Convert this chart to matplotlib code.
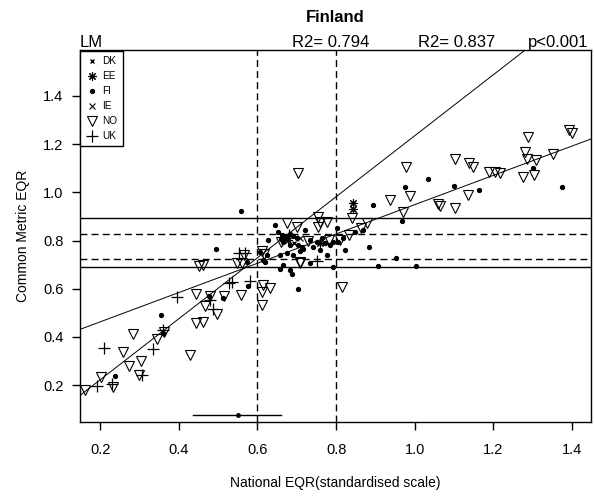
import numpy as np
import matplotlib
matplotlib.use("Agg")
import matplotlib.pyplot as plt
from matplotlib.lines import Line2D

plt.rcParams['font.family'] = ['Liberation Sans', 'DejaVu Sans']

# National EQR (x) vs common metric EQR (y), per country
no_x = [0.162, 0.202, 0.234, 0.259, 0.283, 0.274, 0.303, 0.300, 0.344, 0.363,
        0.429, 0.444, 0.462, 0.443, 0.466, 0.497, 0.516, 0.559, 0.452, 0.547,
        0.560, 0.611, 0.632, 0.611, 0.612, 0.702, 0.675, 0.700, 0.754, 0.776,
        0.759, 0.659, 0.617, 0.566, 0.461, 0.708, 0.728, 0.783, 0.815, 0.615,
        0.480, 0.938, 0.987, 0.970, 1.058, 0.878, 0.840, 1.288, 1.392, 1.399,
        1.279, 1.286, 1.309, 1.352, 1.276, 1.304, 1.189, 1.204, 1.216, 1.102,
        1.138, 1.149, 0.978, 1.102, 1.134, 1.063, 0.811, 0.832, 0.862, 0.753,
        0.709]
no_y = [0.182, 0.234, 0.194, 0.338, 0.412, 0.279, 0.300, 0.241, 0.391, 0.422,
        0.325, 0.457, 0.463, 0.580, 0.528, 0.495, 0.571, 0.573, 0.694, 0.705,
        0.706, 0.587, 0.605, 0.532, 0.756, 1.080, 0.874, 0.856, 0.897, 0.876,
        0.878, 0.795, 0.746, 0.740, 0.698, 0.710, 0.799, 0.802, 0.608, 0.615,
        0.569, 0.968, 0.986, 0.919, 0.953, 0.874, 0.892, 1.228, 1.258, 1.246,
        1.168, 1.137, 1.134, 1.158, 1.064, 1.070, 1.085, 1.085, 1.079, 1.137,
        1.122, 1.106, 1.106, 0.937, 0.988, 0.944, 0.801, 0.822, 0.850, 0.857,
        0.705]

fi_x = [0.355, 0.478, 0.513, 0.238, 0.361, 0.577, 0.619, 0.558, 0.495, 0.628,
        0.704, 0.894, 0.976, 1.033, 0.967, 0.883, 0.951, 0.907, 1.003, 0.793,
        1.100, 1.163, 1.301, 1.375, 0.806, 0.848, 0.869,
        0.653, 0.662, 0.670, 0.683, 0.700, 0.704, 0.713, 0.666, 0.683, 0.717,
        0.734, 0.751, 0.763, 0.772, 0.784, 0.793, 0.801, 0.818, 0.657, 0.674,
        0.691, 0.666, 0.687, 0.734, 0.776, 0.624, 0.607, 0.615, 0.573, 0.657,
        0.683, 0.645, 0.721, 0.759, 0.823, 0.690, 0.742, 0.708, 0.660]
fi_y = [0.493, 0.569, 0.560, 0.239, 0.415, 0.611, 0.712, 0.921, 0.764, 0.802,
        0.601, 0.947, 1.023, 1.055, 0.882, 0.774, 0.726, 0.696, 0.696, 0.691,
        1.026, 1.009, 1.103, 1.023, 0.795, 0.836, 0.843,
        0.836, 0.822, 0.815, 0.829, 0.809, 0.781, 0.774, 0.795, 0.781, 0.767,
        0.802, 0.795, 0.809, 0.788, 0.781, 0.795, 0.850, 0.809, 0.740, 0.747,
        0.740, 0.698, 0.663, 0.705, 0.740, 0.740, 0.753, 0.719, 0.712, 0.684,
        0.677, 0.864, 0.843, 0.760, 0.760, 0.818, 0.772, 0.756, 0.805]

uk_x = [0.395, 0.210, 0.335, 0.361, 0.192, 0.230, 0.307, 0.486, 0.480, 0.527,
        0.552, 0.569, 0.582, 0.535, 0.751, 0.679]
uk_y = [0.565, 0.353, 0.352, 0.428, 0.198, 0.204, 0.241, 0.518, 0.555, 0.622,
        0.748, 0.748, 0.632, 0.629, 0.716, 0.822]

ee_x = [0.842, 0.844, 0.678, 0.759]
ee_y = [0.954, 0.930, 0.802, 0.789]
ie_x = [0.708]
ie_y = [0.810]
dk_x = [0.693]
dk_y = [0.789]

# fitted lines: (intercept, slope)
fit_a = (0.341, 0.608)
fit_b = (-0.031, 1.266)

# class boundaries
bounds_x = [0.6, 0.8]
bounds_solid = [0.893, 0.690]
bounds_dash = [0.827, 0.723]

# mean and range of national boundary
err_mid, err_lo, err_hi, err_y = 0.55, 0.436, 0.66, 0.078

fig = plt.figure(figsize=(5.94, 5.01), dpi=100)
ax = fig.add_axes([0.1347, 0.158, 0.8603, 0.742])

ax.plot(no_x, no_y, 'v', ms=7, mfc='none', mec='black', mew=0.8, ls='none')
ax.plot(fi_x, fi_y, 'o', ms=2.8, color='black', ls='none')
ax.plot(uk_x, uk_y, '+', ms=9, color='black', mew=0.9, ls='none')
ax.plot(ee_x, ee_y, marker=(8, 2, 0), ms=6, color='black', mew=0.8, ls='none')
ax.plot(ie_x, ie_y, 'x', ms=5, color='black', mew=0.8, ls='none')
ax.plot(dk_x, dk_y, 'x', ms=3.5, color='black', mew=1.0, ls='none')

for b in bounds_x:
    ax.axvline(b, color='black', lw=1.0, ls=(0, (5, 3)))
for b in bounds_solid:
    ax.axhline(b, color='black', lw=1.0)
for b in bounds_dash:
    ax.axhline(b, color='black', lw=1.0, ls=(0, (5, 3)))

ax.axline((0, fit_a[0]), slope=fit_a[1], color='black', lw=0.7)
ax.axline((0, fit_b[0]), slope=fit_b[1], color='black', lw=0.7)

ax.plot([err_lo, err_hi], [err_y, err_y], color='black', lw=1.0)
ax.plot([err_mid], [err_y], 'o', ms=2.5, color='black')

ax.set_xlim(0.149, 1.448)
ax.set_ylim(0.048, 1.59)
ax.set_xticks([0.2, 0.4, 0.6, 0.8, 1.0, 1.2, 1.4])
ax.set_yticks([0.2, 0.4, 0.6, 0.8, 1.0, 1.2, 1.4])
ax.xaxis.set_major_formatter(matplotlib.ticker.FormatStrFormatter('%.1f'))
ax.yaxis.set_major_formatter(matplotlib.ticker.FormatStrFormatter('%.1f'))
ax.tick_params(direction='out', length=6, width=1.0, labelsize=10.5, colors='black')
ax.tick_params(axis='x', pad=9)
ax.tick_params(axis='y', pad=6)
for s in ax.spines.values():
    s.set_linewidth(1.0)

ax.set_xlabel('National EQR(standardised scale)', fontsize=10, labelpad=14)
ax.set_ylabel('Common Metric EQR', fontsize=10, labelpad=9)

fig.text(0.565, 0.966, 'Finland', ha='center', va='center', fontsize=12, fontweight='bold')
ax.text(0.0, 1.0, 'LM', transform=ax.transAxes, ha='left', va='bottom', fontsize=12)
ax.text(0.415, 1.0, 'R2= 0.794', transform=ax.transAxes, ha='left', va='bottom', fontsize=12)
ax.text(0.661, 1.0, 'R2= 0.837', transform=ax.transAxes, ha='left', va='bottom', fontsize=12)
ax.text(0.994, 1.0, 'p<0.001', transform=ax.transAxes, ha='right', va='bottom', fontsize=12)

handles = [
    Line2D([], [], ls='none', marker='x', ms=3.5, color='black', mew=1.0),
    Line2D([], [], ls='none', marker=(8, 2, 0), ms=6, color='black', mew=0.8),
    Line2D([], [], ls='none', marker='o', ms=2.8, color='black'),
    Line2D([], [], ls='none', marker='x', ms=5, color='black', mew=0.8),
    Line2D([], [], ls='none', marker='v', ms=7, mfc='none', mec='black', mew=0.8),
    Line2D([], [], ls='none', marker='+', ms=9, color='black', mew=0.9),
]
labels = ['DK', 'EE', 'FI', 'IE', 'NO', 'UK']
leg = ax.legend(handles, labels, loc='upper left', bbox_to_anchor=(0.0, 0.997),
                fontsize=7.2, frameon=True, fancybox=False, framealpha=1,
                edgecolor='black', borderaxespad=0, handlelength=1.3,
                handletextpad=0.45, labelspacing=0.5, borderpad=0.5)
leg.get_frame().set_linewidth(1.0)

fig.savefig('out.png', dpi=100, facecolor='white')
